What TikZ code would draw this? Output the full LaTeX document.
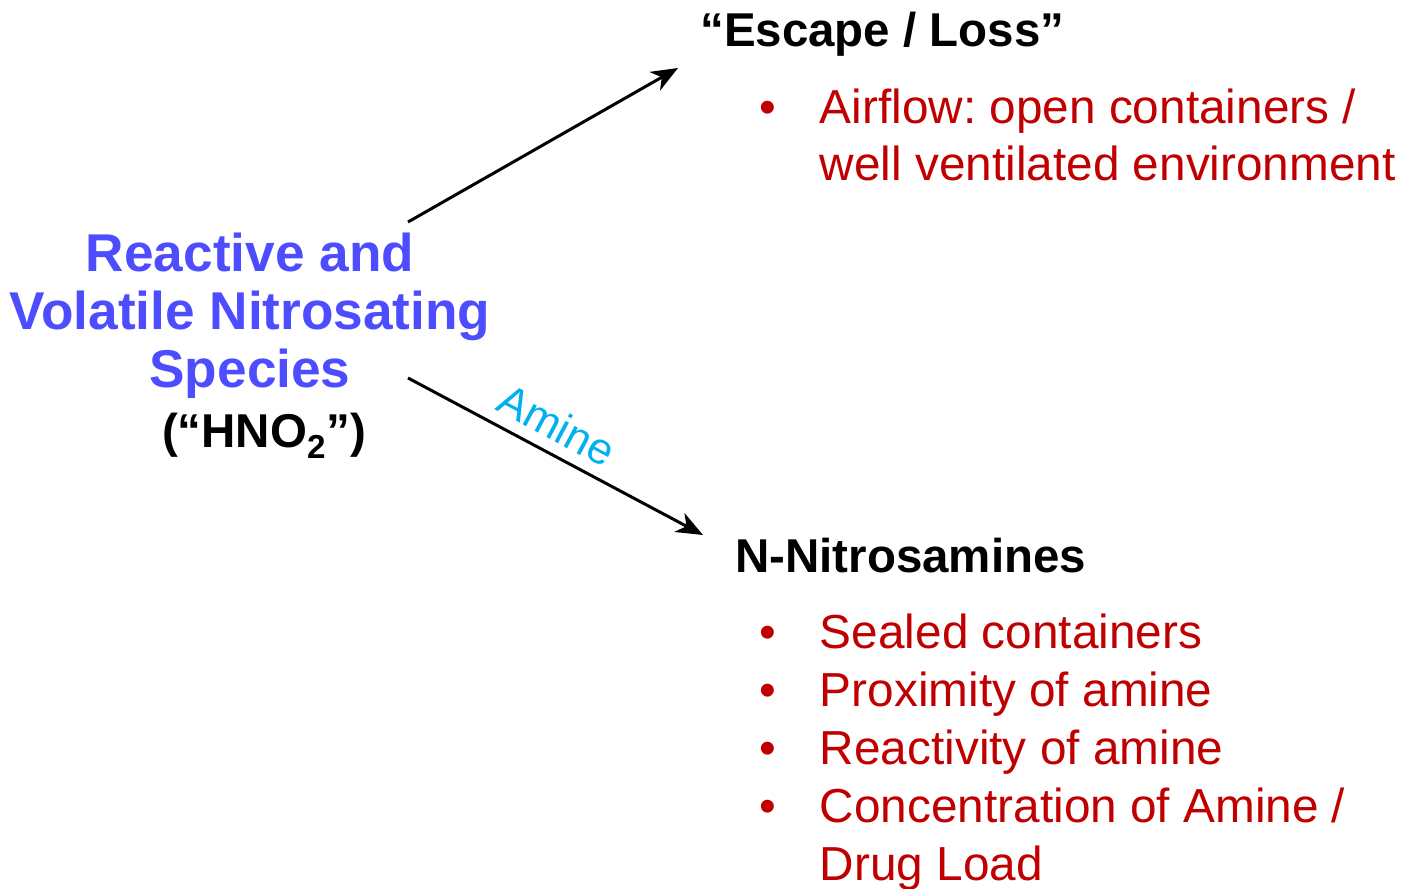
\documentclass[tikz,border=0pt]{standalone}
\usepackage{fontspec}
\setmainfont{Liberation Sans}
\usepackage{xcolor}
\usetikzlibrary{positioning}
\usetikzlibrary{arrows.meta}
\definecolor{speciesblue}{RGB}{77,77,255}
\definecolor{listred}{RGB}{192,0,0}
\definecolor{aminecyan}{RGB}{0,176,240}
\frenchspacing

\begin{document}
\begin{tikzpicture}[x=0.75pt,y=-0.75pt,
    species/.style={text=speciesblue,font=\fontsize{39.9}{43.5}\selectfont\bfseries,align=center,inner sep=0},
    heading/.style={font=\fontsize{35.6}{43.5}\selectfont\bfseries,inner sep=0,anchor=base west},
    bullets/.style={text=listred,font=\fontsize{35.8}{43.5}\selectfont,inner sep=0,anchor=base west},
    flow/.style={line width=2.25pt,-{Stealth[length=20pt,width=16pt,inset=6pt]}}]
            \useasboundingbox (0,0) rectangle (1401,888);
            % Left side
            \node[species] (species) at (250,316) {Reactive and\\Volatile Nitrosating\\Species};
            \node[heading,anchor=base] (hno) at (264,447) {(“HNO\textsubscript{2}”)};
            % Right side
            \node[heading] (escape) at (700,47) {“Escape / Loss”};
            \node[bullets] (escape-list) at (759,123) {\begin{tabular}[t]{@{}l@{\hspace{33pt}}l@{}}
                • & Airflow: open containers /\\
                  & well ventilated environment
            \end{tabular}};
            \node[heading] (nitros) at (735,572) {N-Nitrosamines};
            \node[bullets] (nitros-list) at (759,648) {\begin{tabular}[t]{@{}l@{\hspace{33pt}}l@{}}
                • & Sealed containers\\
                • & Proximity of amine\\
                • & Reactivity of amine\\
                • & Concentration of Amine /\\
                  & Drug Load
            \end{tabular}};
            % Arrows
            \coordinate (escape-tail) at (408,222);
            \coordinate (escape-tip) at (678,68);
            \coordinate (nitros-tail) at (408,378);
            \coordinate (nitros-tip) at (703,535);
            \draw[flow] (escape-tail) -- (escape-tip);
            \draw[flow] (nitros-tail) -- node[sloped,above,pos=0.46,inner sep=8pt,text=aminecyan,font=\fontsize{33}{38}\selectfont] (amine) {Amine} (nitros-tip);
\end{tikzpicture}
\end{document}
